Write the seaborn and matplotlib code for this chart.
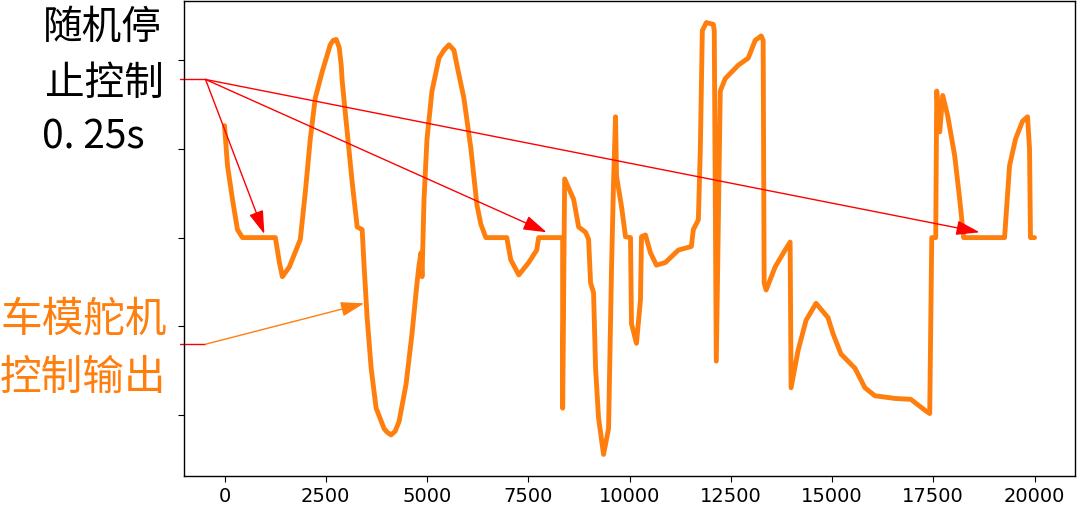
import numpy as np
import pandas as pd
import seaborn as sns
import matplotlib
matplotlib.use('Agg')
import matplotlib.pyplot as plt

# 舵机输出数据
step = [0, 74, 197, 320, 443, 1256, 1355, 1429, 1601, 1872, 1995, 2118, 2241, 2414,
        2611, 2685, 2759, 2832, 2882, 2906, 3029, 3153, 3276, 3399, 3448, 3522, 3621,
        3744, 3941, 4015, 4113, 4212,
        4310, 4483, 4630, 4754, 4803, 4852, 4877, 4926, 5000, 5123, 5296, 5419, 5542,
        5665, 5739,
        5911, 6084, 6232, 6330, 6453, 6970, 7069, 7266, 7512, 7709, 7758, 8349, 8349,
        8399, 8621, 8744, 8916, 8990, 9039, 9113, 9162, 9236, 9359, 9483, 9557, 9606,
        9655, 9680, 9803, 9901, 10025, 10049, 10172, 10271, 10296, 10394, 10517, 10665,
        10887, 11207, 11527, 11576, 11700, 11749, 11798, 11897, 12069, 12093, 12143,
        12241, 12364, 12685, 12931, 13103, 13251, 13300, 13325, 13374, 13596, 13842,
        13966, 13990, 14163, 14360, 14606, 14901, 15024, 15222, 15567, 15813, 16059,
        16552, 16946, 17315, 17413, 17463, 17561, 17586, 17660, 17734, 17857, 18030,
        18153, 18251, 19261, 19384, 19532, 19704, 19828, 19877, 19901, 20000]
servo = [126, 81, 43, 9, 0, 0, -28, -44, -33, -2, 51, 111, 157, 187,
         217, 222, 223, 214, 194, 176, 119, 62, 12, 9, -33, -90, -147,
         -192, -215, -219, -222, -218,
         -207, -165, -108, -51, -31, -17, -44, 43, 111, 165, 202, 211, 217,
         211, 194,
         157, 100, 37, 15, 0, 0, -25, -42, -28, -14, 0, 0, -192,
         66, 43, 12, 6, -2, -51, -62, -147, -203, -244, -215, -33, 62,
         136, 69, 35, 1, 0, -97, -119, -70, 1, 3, -17, -31,
         -28, -14, -10, 9, 20, 100, 233, 242, 240, 233, -139,
         165, 179, 194, 202, 222, 227, 222, -51, -59, -33, -14,
         -5, -169, -127, -93, -74, -90, -108, -131, -147, -169, -178,
         -181, -182, -195, -198, 0, 0, 165, 119, 160, 137, 92,
         43, 0, 0, 81, 111, 131, 136, 100, 0, 0]

xticks = [0, 2500, 5000, 7500, 10000, 12500, 15000, 17500, 20000]
yticks = [-200, -100, 0, 100, 200]

# 箭头: 起点和终点
stop_tail = (-468, 178)
stop_tips = [(985, 4), (7955, 6), (18645, 6)]
servo_tail = (-470, -120)
servo_tip = (3448, -74)

orange = '#ff7f0e'

sns.set_style('ticks')
plt.rcParams['font.family'] = ['Noto Sans CJK SC', 'DejaVu Sans']

fig = plt.figure(figsize=(10.8, 5.1), dpi=100)
ax = fig.add_axes([184 / 1080, 1 - 477 / 510, (1075 - 184) / 1080, 475 / 510])

df = pd.DataFrame({'step': step, 'servo': servo})
sns.lineplot(data=df, x='step', y='servo', ax=ax, color=orange, lw=3.5,
             estimator=None, sort=False)

ax.set_xticks(xticks)
ax.set_xticklabels([str(t) for t in xticks], fontsize=14, family='DejaVu Sans')
ax.set_yticks(yticks)
ax.set_yticklabels([])
ax.set_xlabel('')
ax.set_ylabel('')
for s in ax.spines.values():
    s.set_linewidth(1.0)
    s.set_color('black')
ax.tick_params(colors='black', length=4)

# 坐标范围固定 (标注线不参与自动缩放)
ax.autoscale(enable=False)

# 红色箭头 (随机停止控制)
ax.plot([-1110, stop_tail[0]], [stop_tail[1], stop_tail[1]], color='red', lw=1, clip_on=False)
for tip in stop_tips:
    ax.annotate('', xy=tip, xytext=stop_tail, annotation_clip=False,
                arrowprops=dict(arrowstyle='-|>,head_length=0.8,head_width=0.25',
                                mutation_scale=18, color='red', lw=1,
                                shrinkA=0, shrinkB=0))

# 橙色箭头 (舵机输出)
ax.plot([-1110, servo_tail[0]], [servo_tail[1], servo_tail[1]], color='red', lw=1, clip_on=False)
ax.annotate('', xy=servo_tip, xytext=servo_tail, annotation_clip=False,
            arrowprops=dict(arrowstyle='-|>,head_length=0.8,head_width=0.25',
                            mutation_scale=18, color=orange, lw=1,
                            shrinkA=0, shrinkB=0))

# 文字标注
fig.text(43 / 1080, 1 - 28 / 510, '随机停', fontsize=28.5, color='black', va='center', ha='left')
fig.text(45 / 1080, 1 - 84 / 510, '止控制', fontsize=28.5, color='black', va='center', ha='left')
fig.text(42 / 1080, 1 - 138 / 510, '0. 25s', fontsize=28, color='black', va='center', ha='left')
fig.text(0 / 1080, 1 - 320 / 510, '车模舵机', fontsize=30, color=orange, va='center', ha='left')
fig.text(0 / 1080, 1 - 378 / 510, '控制输出', fontsize=30, color=orange, va='center', ha='left')

fig.savefig('out.png', dpi=100)
